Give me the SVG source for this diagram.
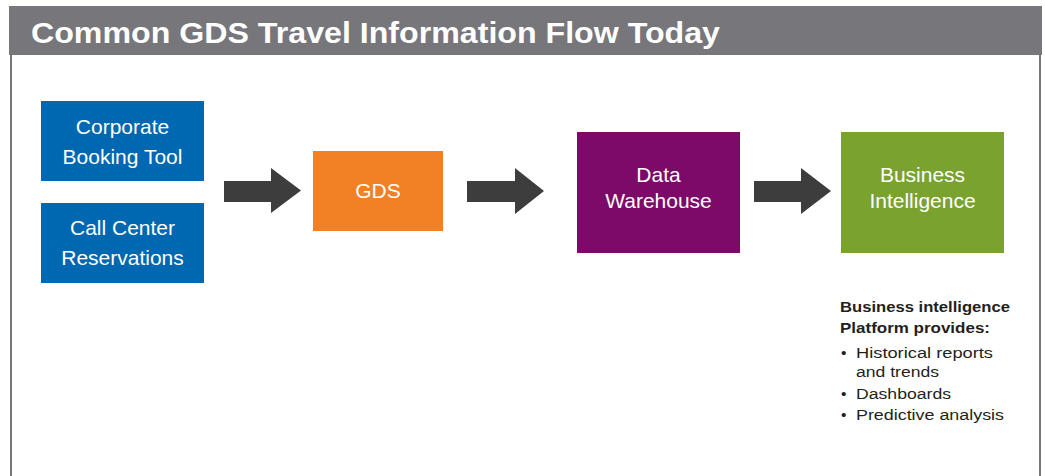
<svg xmlns="http://www.w3.org/2000/svg" width="1045" height="476" viewBox="0 0 1045 476">
  <style>
    .box-text { font-family: "Liberation Sans", Arial, sans-serif; font-size: 21px; fill: #ffffff; text-anchor: middle; }
    .title { font-family: "Liberation Sans", Arial, sans-serif; font-size: 29px; font-weight: bold; fill: #ffffff; }
    .note { font-family: "Liberation Sans", Arial, sans-serif; font-size: 15.5px; fill: #231f20; }
    .note-head { font-weight: bold; }
    .arrow { fill: #3d3d3d; }
    .frame { stroke: #77767b; stroke-width: 2; fill: none; }
  </style>

  <rect x="0" y="0" width="1045" height="476" fill="#ffffff"/>

  <!-- frame and header band -->
  <g id="frame">
    <line class="frame" x1="11" y1="55" x2="11" y2="476"/>
    <line class="frame" x1="1040" y1="55" x2="1040" y2="476"/>
    <rect x="9" y="6" width="1033" height="49" fill="#77767b"/>
    <text class="title" x="31" y="43" textLength="689" lengthAdjust="spacingAndGlyphs">Common GDS Travel Information Flow Today</text>
  </g>

  <!-- flow arrows -->
  <g id="connectors">
    <polygon class="arrow" points="224,181 271,181 271,168 301,190.5 271,213 271,202 224,202"/>
    <polygon class="arrow" points="467,181 515,181 515,168 544,191 515,214 515,202 467,202"/>
    <polygon class="arrow" points="754,181 801,181 801,168 831,191 801,214 801,202 754,202"/>
  </g>

  <g id="corporate-booking-tool">
    <rect x="41" y="101" width="163" height="80" fill="#0067b1"/>
    <text class="box-text" x="122.5" y="134">Corporate</text>
    <text class="box-text" x="122.5" y="164">Booking Tool</text>
  </g>

  <g id="call-center-reservations">
    <rect x="41" y="203" width="163" height="80" fill="#0067b1"/>
    <text class="box-text" x="122.5" y="235">Call Center</text>
    <text class="box-text" x="122.5" y="265">Reservations</text>
  </g>

  <g id="gds">
    <rect x="313" y="151" width="130" height="80" fill="#f28125"/>
    <text class="box-text" x="378" y="198">GDS</text>
  </g>

  <g id="data-warehouse">
    <rect x="577" y="132" width="163" height="121" fill="#7d0a68"/>
    <text class="box-text" x="658.5" y="182">Data</text>
    <text class="box-text" x="658.5" y="208">Warehouse</text>
  </g>

  <g id="business-intelligence">
    <rect x="841" y="132" width="163" height="121" fill="#7aa22f"/>
    <text class="box-text" x="922.5" y="182">Business</text>
    <text class="box-text" x="922.5" y="208">Intelligence</text>
  </g>

  <!-- platform capabilities note -->
  <g id="bi-note" class="note">
    <text class="note-head" x="840" y="312" textLength="170" lengthAdjust="spacingAndGlyphs">Business intelligence</text>
    <text class="note-head" x="840" y="333" textLength="150" lengthAdjust="spacingAndGlyphs">Platform provides:</text>
    <text x="841" y="358">•</text>
    <text x="856" y="358" textLength="137" lengthAdjust="spacingAndGlyphs">Historical reports</text>
    <text x="856" y="377" textLength="83" lengthAdjust="spacingAndGlyphs">and trends</text>
    <text x="841" y="399">•</text>
    <text x="856" y="399" textLength="95" lengthAdjust="spacingAndGlyphs">Dashboards</text>
    <text x="841" y="420">•</text>
    <text x="856" y="420" textLength="148" lengthAdjust="spacingAndGlyphs">Predictive analysis</text>
  </g>
</svg>
